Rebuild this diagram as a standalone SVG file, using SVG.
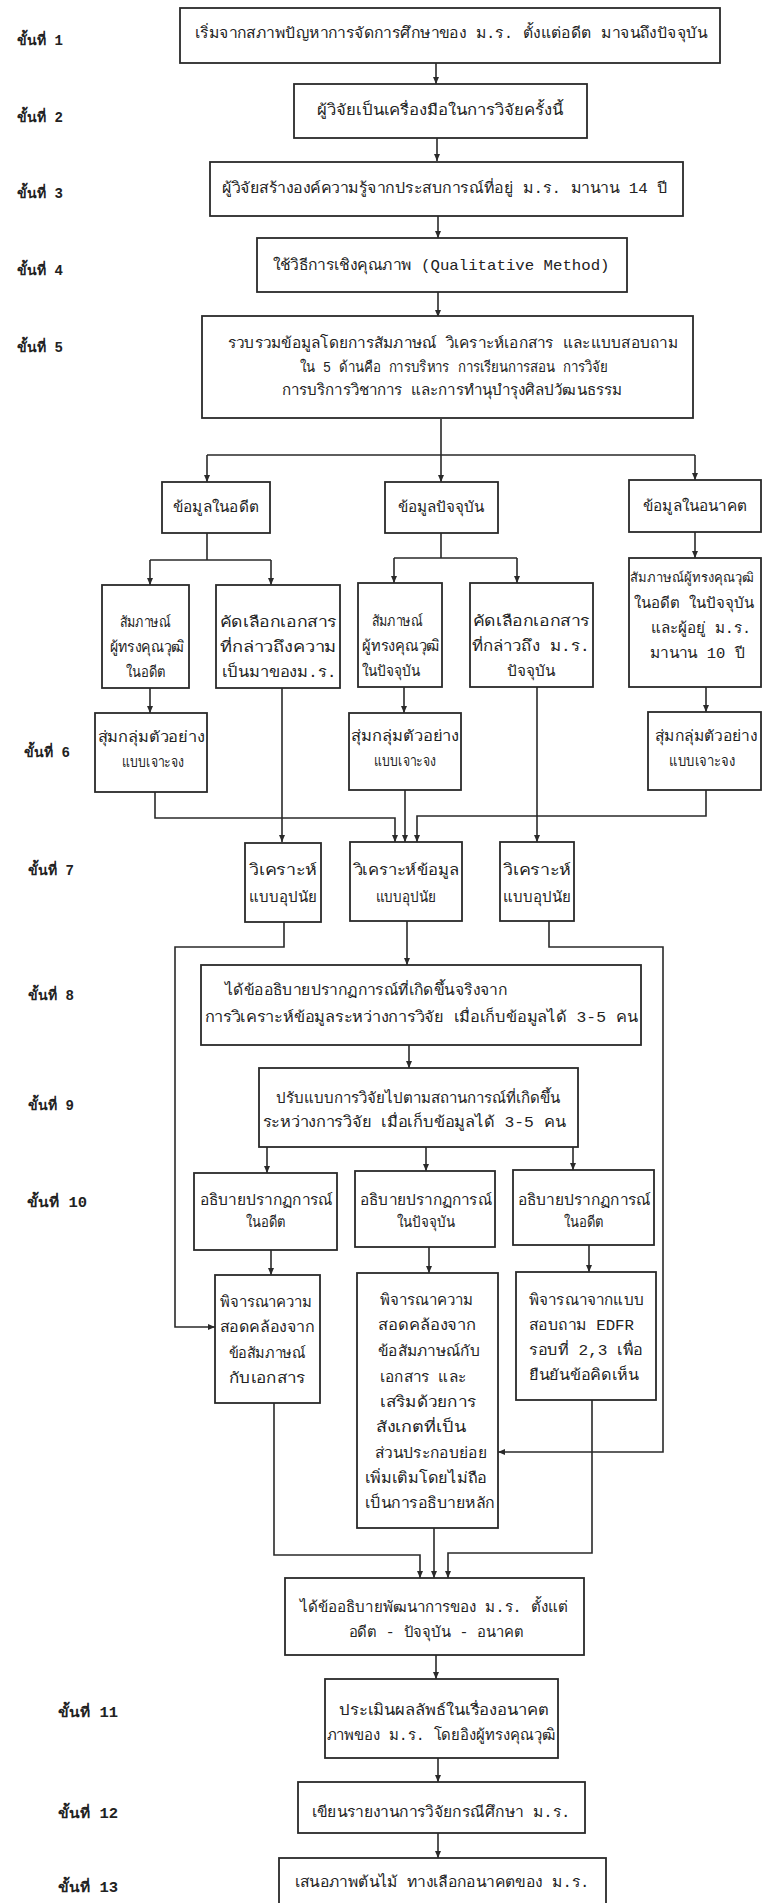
<svg xmlns="http://www.w3.org/2000/svg" width="764" height="1903" viewBox="0 0 764 1903">
<style>
.bx{fill:#fff;stroke:#2a2a2a;stroke-width:1.8}
.ln{fill:none;stroke:#2a2a2a;stroke-width:1.6}
.ar{fill:none;stroke:#2a2a2a;stroke-width:1.6;marker-end:url(#ah)}
text{font-family:"Liberation Mono","Noto Sans",sans-serif;fill:#222}
.t{font-size:15px;text-anchor:middle}
.s{font-size:15px;text-anchor:start}
.lb{font-size:14px;font-weight:bold;text-anchor:start}
</style>
<defs>
<marker id="ah" markerWidth="8" markerHeight="8" refX="7" refY="4" orient="auto" markerUnits="userSpaceOnUse">
<path d="M0,1 L7,4 L0,7 Z" fill="#2a2a2a"/>
</marker>
</defs>
<rect width="764" height="1903" fill="#fff"/>

<g id="labels">
<text class="lb" x="17" y="45" textLength="46" lengthAdjust="spacingAndGlyphs">ขั้นที่ 1</text>
<text class="lb" x="17" y="122" textLength="46" lengthAdjust="spacingAndGlyphs">ขั้นที่ 2</text>
<text class="lb" x="17" y="198" textLength="46" lengthAdjust="spacingAndGlyphs">ขั้นที่ 3</text>
<text class="lb" x="17" y="275" textLength="46" lengthAdjust="spacingAndGlyphs">ขั้นที่ 4</text>
<text class="lb" x="17" y="352" textLength="46" lengthAdjust="spacingAndGlyphs">ขั้นที่ 5</text>
<text class="lb" x="24" y="757" textLength="46" lengthAdjust="spacingAndGlyphs">ขั้นที่ 6</text>
<text class="lb" x="28" y="875" textLength="46" lengthAdjust="spacingAndGlyphs">ขั้นที่ 7</text>
<text class="lb" x="28" y="1000" textLength="46" lengthAdjust="spacingAndGlyphs">ขั้นที่ 8</text>
<text class="lb" x="28" y="1110" textLength="46" lengthAdjust="spacingAndGlyphs">ขั้นที่ 9</text>
<text class="lb" x="27" y="1207" textLength="60" lengthAdjust="spacingAndGlyphs">ขั้นที่ 10</text>
<text class="lb" x="58" y="1717" textLength="60" lengthAdjust="spacingAndGlyphs">ขั้นที่ 11</text>
<text class="lb" x="58" y="1818" textLength="60" lengthAdjust="spacingAndGlyphs">ขั้นที่ 12</text>
<text class="lb" x="58" y="1892" textLength="60" lengthAdjust="spacingAndGlyphs">ขั้นที่ 13</text>
</g>

<g id="connectors">
<path class="ar" d="M436,63 V84"/>
<path class="ar" d="M437,138 V161"/>
<path class="ar" d="M438,216 V238"/>
<path class="ar" d="M438,292 V317"/>
<path class="ln" d="M441,419 V455 M207,455 H695"/>
<path class="ar" d="M207,455 V482"/>
<path class="ar" d="M441,455 V482"/>
<path class="ar" d="M695,455 V480"/>
<path class="ln" d="M207,533 V560 M150,560 H271"/>
<path class="ar" d="M150,560 V585"/>
<path class="ar" d="M271,560 V585"/>
<path class="ln" d="M441,533 V558 M394,558 H517"/>
<path class="ar" d="M394,558 V583"/>
<path class="ar" d="M517,558 V583"/>
<path class="ar" d="M695,532 V558"/>
<path class="ar" d="M150,688 V713"/>
<path class="ar" d="M404,687 V713"/>
<path class="ar" d="M706,687 V712"/>
<path class="ar" d="M282,688 V842"/>
<path class="ar" d="M537,687 V842"/>
<path class="ar" d="M155,792 V818 H395 V842"/>
<path class="ar" d="M405,790 V842"/>
<path class="ar" d="M706,790 V816 H417 V842"/>
<path class="ar" d="M284,922 V947 H175 V1327 H215"/>
<path class="ar" d="M407,921 V965"/>
<path class="ar" d="M549,921 V947 H663 V1452 H498"/>
<path class="ar" d="M409,1045 V1068"/>
<path class="ar" d="M267,1147 V1173"/>
<path class="ar" d="M426,1147 V1171"/>
<path class="ar" d="M573,1147 V1170"/>
<path class="ar" d="M271,1250 V1275"/>
<path class="ar" d="M429,1247 V1273"/>
<path class="ar" d="M589,1245 V1272"/>
<path class="ar" d="M274,1403 V1555 H420 V1578"/>
<path class="ar" d="M434,1528 V1578"/>
<path class="ar" d="M592,1400 V1553 H448 V1578"/>
<path class="ar" d="M436,1655 V1679"/>
<path class="ar" d="M438,1758 V1782"/>
<path class="ar" d="M438,1833 V1858"/>
</g>

<g id="n1"><rect class="bx" x="180" y="8" width="540" height="55"/>
<text class="t" x="451" y="38" textLength="512" lengthAdjust="spacingAndGlyphs">เริ่มจากสภาพปัญหาการจัดการศึกษาของ ม.ร. ตั้งแต่อดีต มาจนถึงปัจจุบัน</text></g>
<g id="n2"><rect class="bx" x="294" y="84" width="293" height="54"/>
<text class="t" x="440" y="115" textLength="246" lengthAdjust="spacingAndGlyphs">ผู้วิจัยเป็นเครื่องมือในการวิจัยครั้งนี้</text></g>
<g id="n3"><rect class="bx" x="210" y="162" width="473" height="54"/>
<text class="t" x="445" y="193" textLength="446" lengthAdjust="spacingAndGlyphs">ผู้วิจัยสร้างองค์ความรู้จากประสบการณ์ที่อยู่ ม.ร. มานาน 14 ปี</text></g>
<g id="n4"><rect class="bx" x="257" y="238" width="370" height="54"/>
<text class="t" x="441" y="270" textLength="337" lengthAdjust="spacingAndGlyphs">ใช้วิธีการเชิงคุณภาพ (Qualitative Method)</text></g>
<g id="n5"><rect class="bx" x="202" y="316" width="491" height="102"/>
<text class="t" x="453" y="348" textLength="450" lengthAdjust="spacingAndGlyphs">รวบรวมข้อมูลโดยการสัมภาษณ์ วิเคราะห์เอกสาร และแบบสอบถาม</text>
<text class="t" x="454" y="372" textLength="308" lengthAdjust="spacingAndGlyphs">ใน 5 ด้านคือ การบริหาร การเรียนการสอน การวิจัย</text>
<text class="t" x="452" y="395" textLength="340" lengthAdjust="spacingAndGlyphs">การบริการวิชาการ และการทำนุบำรุงศิลปวัฒนธรรม</text></g>

<g id="d1"><rect class="bx" x="162" y="482" width="108" height="51"/>
<text class="t" x="216" y="512" textLength="86" lengthAdjust="spacingAndGlyphs">ข้อมูลในอดีต</text></g>
<g id="d2"><rect class="bx" x="385" y="482" width="113" height="51"/>
<text class="t" x="441" y="512" textLength="87" lengthAdjust="spacingAndGlyphs">ข้อมูลปัจจุบัน</text></g>
<g id="d3"><rect class="bx" x="629" y="480" width="132" height="52"/>
<text class="t" x="695" y="511" textLength="104" lengthAdjust="spacingAndGlyphs">ข้อมูลในอนาคต</text></g>

<g id="s1"><rect class="bx" x="102" y="585" width="87" height="103"/>
<text class="t" x="145" y="627" textLength="51" lengthAdjust="spacingAndGlyphs">สัมภาษณ์</text>
<text class="t" x="147" y="652" textLength="75" lengthAdjust="spacingAndGlyphs">ผู้ทรงคุณวุฒิ</text>
<text class="t" x="146" y="677" textLength="40" lengthAdjust="spacingAndGlyphs">ในอดีต</text></g>
<g id="k1"><rect class="bx" x="216" y="585" width="124" height="103"/>
<text class="t" x="278" y="627" textLength="117" lengthAdjust="spacingAndGlyphs">คัดเลือกเอกสาร</text>
<text class="t" x="278" y="652" textLength="117" lengthAdjust="spacingAndGlyphs">ที่กล่าวถึงความ</text>
<text class="t" x="279" y="677" textLength="115" lengthAdjust="spacingAndGlyphs">เป็นมาของม.ร.</text></g>
<g id="s2"><rect class="bx" x="358" y="583" width="84" height="104"/>
<text class="t" x="397" y="626" textLength="51" lengthAdjust="spacingAndGlyphs">สัมภาษณ์</text>
<text class="t" x="401" y="651" textLength="78" lengthAdjust="spacingAndGlyphs">ผู้ทรงคุณวุฒิ</text>
<text class="t" x="391" y="676" textLength="59" lengthAdjust="spacingAndGlyphs">ในปัจจุบัน</text></g>
<g id="k2"><rect class="bx" x="470" y="583" width="123" height="104"/>
<text class="t" x="531" y="626" textLength="117" lengthAdjust="spacingAndGlyphs">คัดเลือกเอกสาร</text>
<text class="t" x="531" y="651" textLength="118" lengthAdjust="spacingAndGlyphs">ที่กล่าวถึง ม.ร.</text>
<text class="t" x="531" y="676" textLength="49" lengthAdjust="spacingAndGlyphs">ปัจจุบัน</text></g>
<g id="s3"><rect class="bx" x="629" y="558" width="132" height="129"/>
<text x="692" y="582" font-size="13" text-anchor="middle">สัมภาษณ์ผู้ทรงคุณวุฒิ</text>
<text class="s" x="634" y="608" textLength="120" lengthAdjust="spacingAndGlyphs">ในอดีต ในปัจจุบัน</text>
<text class="s" x="651" y="633" textLength="100" lengthAdjust="spacingAndGlyphs">และผู้อยู่ ม.ร.</text>
<text class="s" x="650" y="658" textLength="95" lengthAdjust="spacingAndGlyphs">มานาน 10 ปี</text></g>

<g id="r1"><rect class="bx" x="95" y="713" width="112" height="79"/>
<text class="t" x="151" y="742" textLength="107" lengthAdjust="spacingAndGlyphs">สุ่มกลุ่มตัวอย่าง</text>
<text class="t" x="153" y="767" textLength="62" lengthAdjust="spacingAndGlyphs">แบบเจาะจง</text></g>
<g id="r2"><rect class="bx" x="349" y="713" width="112" height="77"/>
<text class="t" x="405" y="741" textLength="108" lengthAdjust="spacingAndGlyphs">สุ่มกลุ่มตัวอย่าง</text>
<text class="t" x="405" y="766" textLength="62" lengthAdjust="spacingAndGlyphs">แบบเจาะจง</text></g>
<g id="r3"><rect class="bx" x="648" y="712" width="113" height="78"/>
<text class="t" x="706" y="741" textLength="102" lengthAdjust="spacingAndGlyphs">สุ่มกลุ่มตัวอย่าง</text>
<text class="t" x="702" y="766" textLength="66" lengthAdjust="spacingAndGlyphs">แบบเจาะจง</text></g>

<g id="a1"><rect class="bx" x="245" y="843" width="76" height="79"/>
<text class="t" x="283" y="875" textLength="68" lengthAdjust="spacingAndGlyphs">วิเคราะห์</text>
<text class="t" x="283" y="902" textLength="68" lengthAdjust="spacingAndGlyphs">แบบอุปนัย</text></g>
<g id="a2"><rect class="bx" x="350" y="842" width="112" height="79"/>
<text class="t" x="406" y="875" textLength="105" lengthAdjust="spacingAndGlyphs">วิเคราะห์ข้อมูล</text>
<text class="t" x="406" y="902" textLength="61" lengthAdjust="spacingAndGlyphs">แบบอุปนัย</text></g>
<g id="a3"><rect class="bx" x="500" y="842" width="74" height="79"/>
<text class="t" x="537" y="875" textLength="68" lengthAdjust="spacingAndGlyphs">วิเคราะห์</text>
<text class="t" x="537" y="902" textLength="68" lengthAdjust="spacingAndGlyphs">แบบอุปนัย</text></g>

<g id="n8"><rect class="bx" x="201" y="965" width="440" height="80"/>
<text class="s" x="225" y="995" textLength="282" lengthAdjust="spacingAndGlyphs">ได้ข้ออธิบายปรากฏการณ์ที่เกิดขึ้นจริงจาก</text>
<text class="t" x="421" y="1022" textLength="433" lengthAdjust="spacingAndGlyphs">การวิเคราะห์ข้อมูลระหว่างการวิจัย เมื่อเก็บข้อมูลได้ 3-5 คน</text></g>
<g id="n9"><rect class="bx" x="259" y="1068" width="319" height="79"/>
<text class="t" x="418" y="1103" textLength="285" lengthAdjust="spacingAndGlyphs">ปรับแบบการวิจัยไปตามสถานการณ์ที่เกิดขึ้น</text>
<text class="t" x="414" y="1127" textLength="303" lengthAdjust="spacingAndGlyphs">ระหว่างการวิจัย เมื่อเก็บข้อมูลได้ 3-5 คน</text></g>

<g id="e1"><rect class="bx" x="194" y="1173" width="143" height="77"/>
<text class="t" x="266" y="1205" textLength="133" lengthAdjust="spacingAndGlyphs">อธิบายปรากฏการณ์</text>
<text class="t" x="266" y="1227" textLength="40" lengthAdjust="spacingAndGlyphs">ในอดีต</text></g>
<g id="e2"><rect class="bx" x="355" y="1171" width="140" height="76"/>
<text class="t" x="426" y="1205" textLength="132" lengthAdjust="spacingAndGlyphs">อธิบายปรากฏการณ์</text>
<text class="t" x="426" y="1227" textLength="58" lengthAdjust="spacingAndGlyphs">ในปัจจุบัน</text></g>
<g id="e3"><rect class="bx" x="513" y="1170" width="141" height="75"/>
<text class="t" x="584" y="1205" textLength="133" lengthAdjust="spacingAndGlyphs">อธิบายปรากฏการณ์</text>
<text class="t" x="584" y="1227" textLength="40" lengthAdjust="spacingAndGlyphs">ในอดีต</text></g>

<g id="c1"><rect class="bx" x="215" y="1275" width="105" height="128"/>
<text class="t" x="266" y="1307" textLength="92" lengthAdjust="spacingAndGlyphs">พิจารณาความ</text>
<text class="t" x="267" y="1332" textLength="95" lengthAdjust="spacingAndGlyphs">สอดคล้องจาก</text>
<text class="t" x="267" y="1358" textLength="77" lengthAdjust="spacingAndGlyphs">ข้อสัมภาษณ์</text>
<text class="t" x="267" y="1383" textLength="76" lengthAdjust="spacingAndGlyphs">กับเอกสาร</text></g>
<g id="c2"><rect class="bx" x="357" y="1273" width="141" height="255"/>
<text class="t" x="426" y="1305" textLength="93" lengthAdjust="spacingAndGlyphs">พิจารณาความ</text>
<text class="t" x="427" y="1330" textLength="98" lengthAdjust="spacingAndGlyphs">สอดคล้องจาก</text>
<text class="t" x="429" y="1356" textLength="102" lengthAdjust="spacingAndGlyphs">ข้อสัมภาษณ์กับ</text>
<text class="t" x="423" y="1382" textLength="86" lengthAdjust="spacingAndGlyphs">เอกสาร และ</text>
<text class="t" x="428" y="1407" textLength="96" lengthAdjust="spacingAndGlyphs">เสริมด้วยการ</text>
<text class="t" x="421" y="1432" textLength="90" lengthAdjust="spacingAndGlyphs">สังเกตที่เป็น</text>
<text class="t" x="431" y="1458" textLength="112" lengthAdjust="spacingAndGlyphs">ส่วนประกอบย่อย</text>
<text class="t" x="426" y="1483" textLength="122" lengthAdjust="spacingAndGlyphs">เพิ่มเติมโดยไม่ถือ</text>
<text class="t" x="430" y="1508" textLength="130" lengthAdjust="spacingAndGlyphs">เป็นการอธิบายหลัก</text></g>
<g id="c3"><rect class="bx" x="516" y="1272" width="140" height="128"/>
<text class="s" x="529" y="1305" textLength="115" lengthAdjust="spacingAndGlyphs">พิจารณาจากแบบ</text>
<text class="s" x="529" y="1330" textLength="105" lengthAdjust="spacingAndGlyphs">สอบถาม EDFR</text>
<text class="s" x="529" y="1355" textLength="114" lengthAdjust="spacingAndGlyphs">รอบที่ 2,3 เพื่อ</text>
<text class="s" x="529" y="1380" textLength="110" lengthAdjust="spacingAndGlyphs">ยืนยันข้อคิดเห็น</text></g>

<g id="f"><rect class="bx" x="285" y="1578" width="299" height="77"/>
<text class="t" x="434" y="1612" textLength="268" lengthAdjust="spacingAndGlyphs">ได้ข้ออธิบายพัฒนาการของ ม.ร. ตั้งแต่</text>
<text class="t" x="436" y="1637" textLength="175" lengthAdjust="spacingAndGlyphs">อดีต - ปัจจุบัน - อนาคต</text></g>
<g id="n11"><rect class="bx" x="325" y="1679" width="233" height="79"/>
<text class="t" x="444" y="1715" textLength="210" lengthAdjust="spacingAndGlyphs">ประเมินผลลัพธ์ในเรื่องอนาคต</text>
<text class="t" x="441" y="1740" textLength="229" lengthAdjust="spacingAndGlyphs">ภาพของ ม.ร. โดยอิงผู้ทรงคุณวุฒิ</text></g>
<g id="n12"><rect class="bx" x="298" y="1782" width="287" height="51"/>
<text class="t" x="441" y="1817" textLength="259" lengthAdjust="spacingAndGlyphs">เขียนรายงานการวิจัยกรณีศึกษา ม.ร.</text></g>
<g id="n13"><rect class="bx" x="279" y="1858" width="327" height="70"/>
<text class="t" x="442" y="1887" textLength="295" lengthAdjust="spacingAndGlyphs">เสนอภาพต้นไม้ ทางเลือกอนาคตของ ม.ร.</text></g>
</svg>
